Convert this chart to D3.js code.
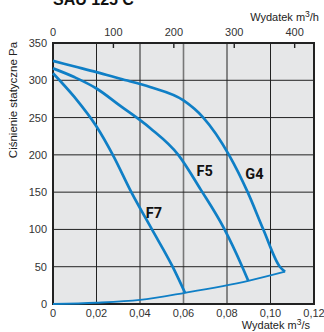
<!DOCTYPE html>
<html>
<head>
	<meta charset="utf-8">
	<title>SAU 125 C</title>
	<script src="https://d3js.org/d3.v7.min.js"></script>
	<style>
		body { margin: 0; background: #fff; }
		text { font-family: "Liberation Sans", Arial, sans-serif; }
	</style>
</head>
<body>
	<script>

			// flow in m3/s, static pressure in Pa
			var g4 = [[0, 326], [0.01, 318.5], [0.02, 311], [0.031, 302], [0.0446, 291], [0.06, 273], [0.0691, 250],
			          [0.0809, 200], [0.0895, 150], [0.0967, 100], [0.1043, 50], [0.1067, 43.3]];
			var f5 = [[0, 316], [0.01, 304], [0.02, 289], [0.0308, 266], [0.0446, 236], [0.0576, 200], [0.068, 153],
			          [0.0785, 102], [0.087, 50], [0.0898, 31]];
			var f7 = [[0, 309.5], [0.01, 277], [0.02, 238], [0.0275, 200], [0.036, 150], [0.0455, 100],
			          [0.055, 50], [0.0607, 15]];
			var system = [[0, 0], [0.02, 1.7], [0.04, 5.5], [0.0607, 15], [0.0898, 31], [0.1067, 43.3]];

			var labels = [
				{ name: "G4", at: [0.0926, 168] },
				{ name: "F5", at: [0.0697, 172] },
				{ name: "F7", at: [0.0464, 115] }
			];

			var flowTicks = [0, 0.02, 0.04, 0.06, 0.08, 0.10, 0.12];
			var hourTicks = [0, 100, 200, 300, 400];
			var pressureTicks = [0, 50, 100, 150, 200, 250, 300, 350];

			var blue = "#0f7fc6";

			var svg = d3.select("body").append("svg")
						.attr("width", 324)
						.attr("height", 332);

			var x = d3.scaleLinear().domain([0, 0.12]).range([53, 314]);
			var xh = d3.scaleLinear().domain([0, 0.12 * 3600]).range([53, 314]);
			var y = d3.scaleLinear().domain([0, 350]).range([304, 43]);

			// plot background
			svg.append("rect")
				.attr("x", x(0)).attr("y", y(350))
				.attr("width", x(0.12) - x(0)).attr("height", y(0) - y(350))
				.attr("fill", "#e6e7e8");

			// grid
			svg.append("g").selectAll("line")
				.data(flowTicks)
				.enter().append("line")
				.attr("x1", function (d) { return x(d); }).attr("x2", function (d) { return x(d); })
				.attr("y1", y(0)).attr("y2", y(350))
				.attr("stroke", function (d, i) { return i == 3 ? "#777" : "#222"; })
				.attr("stroke-width", function (d, i) { return i == 3 ? 1.6 : 1; });

			svg.append("g").selectAll("line")
				.data(pressureTicks)
				.enter().append("line")
				.attr("x1", x(0)).attr("x2", x(0.12))
				.attr("y1", function (d) { return y(d); }).attr("y2", function (d) { return y(d); })
				.attr("stroke", "#222")
				.attr("stroke-width", 1);

			// top ticks (m3/h)
			svg.append("g").selectAll("line")
				.data(hourTicks.slice(1))
				.enter().append("line")
				.attr("x1", function (d) { return xh(d); }).attr("x2", function (d) { return xh(d); })
				.attr("y1", y(350) - 1).attr("y2", y(350) + 5)
				.attr("stroke", "#222")
				.attr("stroke-width", 1.4);

			// border
			svg.append("rect")
				.attr("x", x(0)).attr("y", y(350))
				.attr("width", x(0.12) - x(0)).attr("height", y(0) - y(350))
				.attr("fill", "none")
				.attr("stroke", "#222")
				.attr("stroke-width", 2);

			// curves
			var line = d3.line()
						.x(function (d) { return x(d[0]); })
						.y(function (d) { return y(d[1]); })
						.curve(d3.curveMonotoneX);

			[g4, f5, f7].forEach(function (c) {
				svg.append("path")
					.attr("d", line(c))
					.attr("fill", "none")
					.attr("stroke", blue)
					.attr("stroke-width", 2.7)
					.attr("stroke-linejoin", "round");
			});

			svg.append("path")
				.attr("d", line(system))
				.attr("fill", "none")
				.attr("stroke", blue)
				.attr("stroke-width", 1.8);

			// curve labels
			svg.append("g").selectAll("text")
				.data(labels)
				.enter().append("text")
				.attr("x", function (d) { return x(d.at[0]); })
				.attr("y", function (d) { return y(d.at[1]); })
				.attr("text-anchor", "middle")
				.style("font-family", "Roboto, sans-serif")
				.attr("font-weight", "bold")
				.attr("font-size", "14.5px")
				.attr("fill", "#111")
				.text(function (d) { return d.name; });

			// tick labels
			svg.append("g").selectAll("text")
				.data(flowTicks)
				.enter().append("text")
				.attr("x", function (d) { return x(d); })
				.attr("y", 317)
				.attr("text-anchor", "middle")
				.attr("font-size", "11px")
				.attr("fill", "#333")
				.text(function (d) { return d == 0 ? "0" : d.toFixed(2).replace(".", ","); });

			svg.append("g").selectAll("text")
				.data(hourTicks)
				.enter().append("text")
				.attr("x", function (d) { return xh(d); })
				.attr("y", 36)
				.attr("text-anchor", "middle")
				.attr("font-size", "11px")
				.attr("fill", "#333")
				.text(function (d) { return d; });

			svg.append("g").selectAll("text")
				.data(pressureTicks)
				.enter().append("text")
				.attr("x", 47)
				.attr("y", function (d) { return y(d) + 4; })
				.attr("text-anchor", "end")
				.attr("font-size", "11px")
				.attr("fill", "#333")
				.text(function (d) { return d; });

			// axis titles
			var topTitle = svg.append("text")
				.attr("x", 319).attr("y", 21)
				.attr("text-anchor", "end")
				.attr("font-size", "11px")
				.attr("fill", "#222");
			topTitle.append("tspan").text("Wydatek m");
			topTitle.append("tspan").attr("dy", -4).attr("font-size", "8.5px").text("3");
			topTitle.append("tspan").attr("dy", 4).text("/h");

			var bottomTitle = svg.append("text")
				.attr("x", 310).attr("y", 329)
				.attr("text-anchor", "end")
				.attr("font-size", "11px")
				.attr("fill", "#222");
			bottomTitle.append("tspan").text("Wydatek m");
			bottomTitle.append("tspan").attr("dy", -4).attr("font-size", "8.5px").text("3");
			bottomTitle.append("tspan").attr("dy", 4).text("/s");

			svg.append("text")
				.attr("transform", "translate(17, 100) rotate(-90)")
				.attr("text-anchor", "middle")
				.attr("font-size", "11.5px")
				.attr("fill", "#222")
				.text("Ciśnienie statyczne Pa");

			// title, cut off at the top edge as in the source
			svg.append("text")
				.attr("x", 53).attr("y", 5)
				.attr("font-size", "16px")
				.attr("font-weight", "bold")
				.attr("fill", "#111")
				.text("SAU 125 C");

	</script>
</body>
</html>
